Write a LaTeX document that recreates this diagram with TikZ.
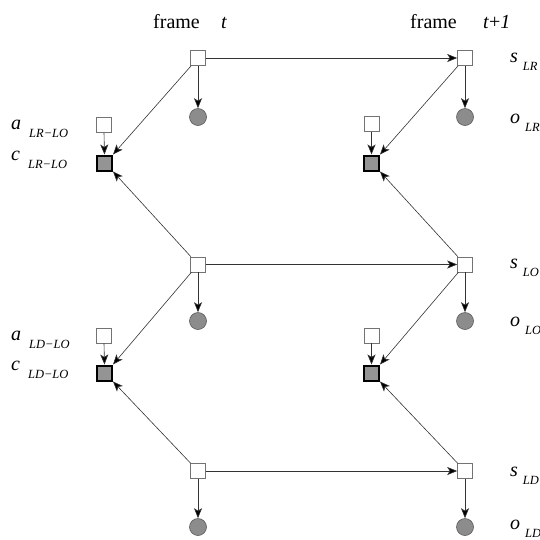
\documentclass[tikz,border=0pt]{standalone}
\usepackage{fontspec}
\setmainfont{Liberation Serif}
\usetikzlibrary{arrows.meta}
\newcommand{\lbl}[3]{\textit{#1}\hspace{#3}\raisebox{-8pt}{\fontsize{12.5}{12.5}\selectfont\textit{#2}}}
\begin{document}
\begin{tikzpicture}[x=1pt,y=-1pt,
  hid/.style={rectangle,draw=black!55,fill=white,line width=0.6pt,minimum size=15pt,inner sep=0pt},
  obs/.style={circle,draw=black!65,fill=black!45,line width=0.6pt,minimum size=17pt,inner sep=0pt},
  con/.style={rectangle,draw=black,fill=black!42,line width=2pt,minimum size=15pt,inner sep=0pt},
  arr/.style={draw=black!80,line width=0.6pt,-{Stealth[length=10pt,width=8pt,inset=2.5pt,fill=black]}},
  txt/.style={font=\fontsize{20}{20}\selectfont,inner sep=0pt,anchor=base west},
  lab/.style={font=\fontsize{20}{20}\selectfont,inner sep=0pt,anchor=base west}]
\useasboundingbox (0,0) rectangle (540,539);
% titles
\node[txt] (f1) at (153,28) {frame};
\node[txt] (t1) at (221,28) {\textit{t}};
\node[txt] (f2) at (410,28) {frame};
\node[txt] (t2) at (483,28) {\textit{t}+\textit{1}};
% hidden states
\node[hid] (s1L) at (198,58) {};
\node[hid] (s2L) at (198,264.5) {};
\node[hid] (s3L) at (198,471) {};
\node[hid] (s1R) at (465,58) {};
\node[hid] (s2R) at (465,264.5) {};
\node[hid] (s3R) at (465,471) {};
% observations
\node[obs] (o1L) at (198,117) {};
\node[obs] (o2L) at (198,321) {};
\node[obs] (o3L) at (198,527) {};
\node[obs] (o1R) at (465,117) {};
\node[obs] (o2R) at (465,321) {};
\node[obs] (o3R) at (465,527) {};
% actions
\node[hid] (a1L) at (104,125) {};
\node[hid] (a2L) at (104,335.5) {};
\node[hid] (a1R) at (371.5,124) {};
\node[hid] (a2R) at (371.5,335.5) {};
% constraints
\node[con] (c1L) at (104.5,163) {};
\node[con] (c2L) at (104.5,373) {};
\node[con] (c1R) at (371.5,163) {};
\node[con] (c2R) at (371.5,373) {};
% edges
\foreach \r in {1,2,3}{
  \draw[arr] (s\r L.east) -- (s\r R.west);
  \draw[arr] (s\r L.south) -- (o\r L.north);
  \draw[arr] (s\r R.south) -- (o\r R.north);
}
\foreach \r in {1,2}{
  \draw[arr] (a\r L.south) -- (c\r L.north);
  \draw[arr] (a\r R.south) -- (c\r R.north);
}
\draw[arr] (s1L) -- (c1L.north east);
\draw[arr] (s2L) -- (c1L.south east);
\draw[arr] (s2L) -- (c2L.north east);
\draw[arr] (s3L) -- (c2L.south east);
\draw[arr] (s1R) -- (c1R.north east);
\draw[arr] (s2R) -- (c1R.south east);
\draw[arr] (s2R) -- (c2R.north east);
\draw[arr] (s3R) -- (c2R.south east);
% labels
\node[lab] (la1) at (11,129) {\lbl{a}{LR−LO}{8pt}};
\node[lab] (lc1) at (11,160) {\lbl{c}{LR−LO}{8pt}};
\node[lab] (la2) at (11,340) {\lbl{a}{LD−LO}{8pt}};
\node[lab] (lc2) at (11,370) {\lbl{c}{LD−LO}{8pt}};
\node[lab] (ls1) at (510,62) {\lbl{s}{LR}{5pt}};
\node[lab] (lo1) at (510,123) {\lbl{o}{LR}{5pt}};
\node[lab] (ls2) at (510,268) {\lbl{s}{LO}{5pt}};
\node[lab] (lo2) at (510,326) {\lbl{o}{LO}{5pt}};
\node[lab] (ls3) at (510,476) {\lbl{s}{LD}{5pt}};
\node[lab] (lo3) at (510,529) {\lbl{o}{LD}{5pt}};
\end{tikzpicture}
\end{document}
